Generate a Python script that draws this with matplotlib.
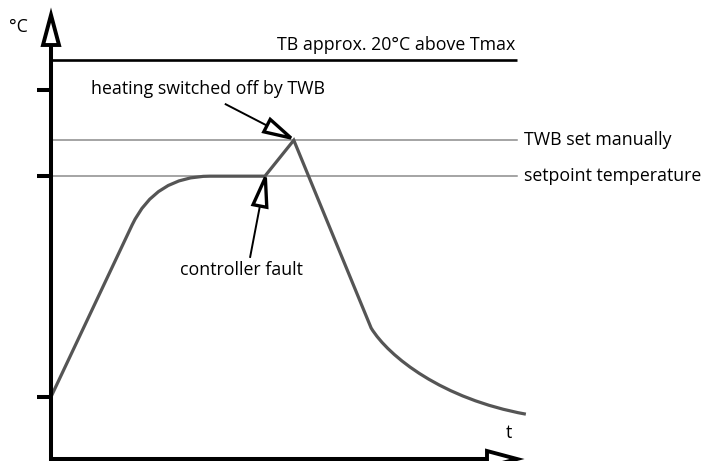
import matplotlib
matplotlib.use("Agg")
import matplotlib.pyplot as plt
from matplotlib.path import Path
from matplotlib.patches import PathPatch, Polygon
import numpy as np

plt.rcParams['font.family'] = ['Open Sans', 'DejaVu Sans']

# Temperature profile (schematic units): key points of the heating curve
t_rise = [0.0, 17.4]
T_rise = [14.0, 52.7]
t_approach = [22.4, 34.1]          # control point, end of rounded approach
T_approach = [63.7, 63.7]
t_fault = [45.9, 52.1, 68.7]       # controller fault, TWB trip, end of fast cooling
T_fault = [63.7, 71.8, 29.5]
t_cool = [72.5, 84.0, 101.9]       # slow cooling tail (cubic control points)
T_cool = [23.0, 13.5, 10.1]

# Reference levels
T_setpoint = 63.7
T_twb = 71.8
T_tb = 89.9
y_ticks = [14.0, 63.7, 83.1]

label_tb = "TB approx. 20°C above Tmax"
label_twb = "TWB set manually"
label_set = "setpoint temperature"
label_off = "heating switched off by TWB"
label_fault = "controller fault"

SX, SY = 4.66, 4.44   # pixels per unit
W, H = 707, 461

fig = plt.figure(figsize=(W / 100, H / 100), dpi=100)
ax = fig.add_axes([0, 0, 1, 1])
ax.set_xlim(-51 / SX, (W - 51) / SX)
ax.set_ylim(-2 / SY, 459 / SY)
ax.axis('off')

FS = 12.8
curve_color = '#555555'

# reference lines
ax.plot([0, 100], [T_tb, T_tb], color='black', lw=1.9, solid_capstyle='butt')
ax.plot([0, 100], [T_twb, T_twb], color='#8c8c8c', lw=1.1)
ax.plot([0, 100], [T_setpoint, T_setpoint], color='#8c8c8c', lw=1.1)

# heating curve
verts = [(t_rise[0], T_rise[0]), (t_rise[1], T_rise[1]),
         (t_approach[0], T_approach[0]), (t_approach[1], T_approach[1])]
codes = [Path.MOVETO, Path.LINETO, Path.CURVE3, Path.CURVE3]
for t, T in zip(t_fault, T_fault):
    verts.append((t, T)); codes.append(Path.LINETO)
for t, T in zip(t_cool, T_cool):
    verts.append((t, T)); codes.append(Path.CURVE4)
ax.add_patch(PathPatch(Path(verts, codes), fc='none', ec=curve_color,
                       lw=2.3, capstyle='butt', joinstyle='miter', zorder=3))


def open_head(tail, tip, length, half_width, lw):
    """Open triangular arrow head drawn in display space."""
    p0 = ax.transData.transform(tail)
    p1 = ax.transData.transform(tip)
    d = (p1 - p0) / np.hypot(*(p1 - p0))
    n = np.array([-d[1], d[0]])
    base = p1 - d * length
    tri = [p1, base + n * half_width, base - n * half_width]
    ax.add_patch(Polygon(tri, closed=True, transform=None, fc='white',
                         ec='black', lw=lw, joinstyle='miter', zorder=5))
    return ax.transData.inverted().transform(base)


def arrow(tail, tip, length, half_width, lw_shaft, lw_head):
    base = open_head(tail, tip, length, half_width, lw_head)
    ax.plot([tail[0], base[0]], [tail[1], base[1]], color='black',
            lw=lw_shaft, solid_capstyle='butt', zorder=4)


# axes with arrow heads
arrow((0, -1), (0, 100), 30, 8, 2.9, 2.8)
arrow((0, 0), (100, 0), 30, 8, 2.9, 2.8)
for y in y_ticks:
    ax.plot([-14 / SX, 0], [y, y], color='black', lw=2.9, solid_capstyle='butt')

# annotation arrows
arrow((37.3, 80.0), (51.5, 72.3), 27, 7, 1.4, 2.4)
arrow((42.7, 45.3), (46.0, 63.4), 29, 7, 1.4, 2.4)

# texts
ax.text(-6.9, 97.3, "°C", fontsize=FS, ha='center', va='center')
ax.text(98.3, 5.9, "t", fontsize=FS, ha='center', va='center')
ax.text(99.6, 93.2, label_tb, fontsize=FS, ha='right', va='center')
ax.text(101.5, T_twb, label_twb, fontsize=FS, ha='left', va='center')
ax.text(101.5, T_setpoint, label_set, fontsize=FS, ha='left', va='center')
ax.text(8.6, 83.3, label_off, fontsize=FS, ha='left', va='center')
ax.text(27.7, 42.6, label_fault, fontsize=FS, ha='left', va='center')

fig.savefig('out.png', dpi=100)
